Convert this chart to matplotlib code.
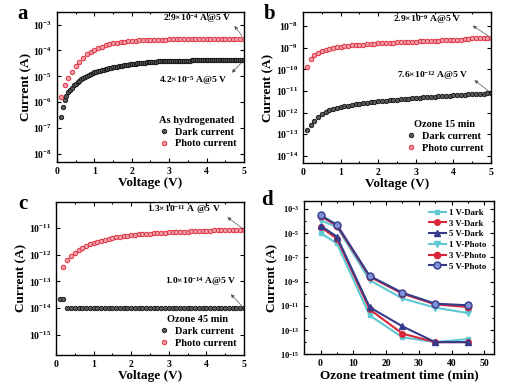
import numpy as np
import matplotlib
matplotlib.use("Agg")
import matplotlib.pyplot as plt
from matplotlib.ticker import LogLocator, NullLocator, NullFormatter, MultipleLocator

plt.rcParams["font.family"] = ["Liberation Serif", "DejaVu Serif"]
plt.rcParams["font.weight"] = "bold"
plt.rcParams["axes.labelweight"] = "bold"
plt.rcParams["mathtext.default"] = "regular"
plt.rcParams["axes.linewidth"] = 1.0

# voltage sweeps (instrument step settings)
volt_fine = np.linspace(0.10, 5.00, 99)     # 0.05 V step
volt = np.linspace(0.1, 5.0, 50)            # 0.1 V step
volt_c_photo = np.linspace(0.2, 5.0, 49)

# panel a: as hydrogenated
dark_a = [2.8e-7, 6.3e-7, 1.26e-6, 1.78e-6, 2.4e-6, 3.0e-6, 3.7e-6, 4.5e-6, 5.2e-6, 6.0e-6,
          6.9e-6, 7.8e-6, 8.7e-6, 9.6e-6, 1.07e-5, 1.16e-5, 1.26e-5, 1.34e-5, 1.41e-5, 1.50e-5,
          1.58e-5, 1.66e-5, 1.74e-5, 1.82e-5, 1.91e-5, 1.99e-5, 2.09e-5, 2.16e-5, 2.24e-5, 2.31e-5,
          2.38e-5, 2.45e-5, 2.51e-5, 2.57e-5, 2.63e-5, 2.69e-5, 2.82e-5, 2.88e-5, 2.95e-5, 3.00e-5,
          3.09e-5, 3.14e-5, 3.20e-5, 3.25e-5, 3.31e-5, 3.35e-5, 3.47e-5, 3.50e-5, 3.55e-5, 3.60e-5,
          3.65e-5, 3.70e-5, 3.80e-5, 3.83e-5, 3.86e-5, 3.89e-5, 3.92e-5, 3.95e-5, 3.98e-5,
          4.00e-5, 4.01e-5, 4.02e-5, 4.03e-5, 4.04e-5, 4.05e-5, 4.06e-5, 4.07e-5, 4.08e-5, 4.08e-5,
          4.09e-5, 4.10e-5, 4.10e-5, 4.11e-5, 4.11e-5, 4.12e-5, 4.12e-5, 4.13e-5, 4.13e-5, 4.14e-5,
          4.14e-5, 4.15e-5, 4.15e-5, 4.16e-5, 4.16e-5, 4.16e-5, 4.17e-5, 4.17e-5, 4.17e-5, 4.18e-5,
          4.18e-5, 4.18e-5, 4.19e-5, 4.19e-5, 4.19e-5, 4.19e-5, 4.20e-5, 4.20e-5, 4.20e-5, 4.20e-5]
photo_a = [1.66e-6, 4.5e-6, 8.3e-6, 1.48e-5, 2.45e-5, 3.6e-5, 5.1e-5, 7.1e-5, 8.9e-5, 1.07e-4,
           1.23e-4, 1.41e-4, 1.58e-4, 1.74e-4, 1.86e-4, 2.00e-4, 2.09e-4, 2.19e-4, 2.24e-4, 2.34e-4,
           2.40e-4, 2.45e-4, 2.51e-4, 2.53e-4, 2.57e-4, 2.59e-4, 2.61e-4, 2.63e-4, 2.64e-4, 2.66e-4,
           2.67e-4, 2.69e-4, 2.70e-4, 2.71e-4, 2.73e-4, 2.74e-4, 2.75e-4, 2.76e-4, 2.77e-4, 2.79e-4,
           2.80e-4, 2.81e-4, 2.82e-4, 2.83e-4, 2.84e-4, 2.85e-4, 2.86e-4, 2.87e-4, 2.88e-4, 2.90e-4]

# panel b: ozone 15 min
dark_b = [0.16e-12, 0.28e-12, 0.42e-12, 0.63e-12, 0.89e-12, 1.10e-12, 1.29e-12, 1.48e-12, 1.66e-12, 1.78e-12,
          1.95e-12, 2.09e-12, 2.24e-12, 2.40e-12, 2.57e-12, 2.69e-12, 2.88e-12, 3.02e-12, 3.24e-12, 3.39e-12,
          3.50e-12, 3.60e-12, 3.75e-12, 3.90e-12, 4.00e-12, 4.10e-12, 4.25e-12, 4.40e-12, 4.55e-12, 4.70e-12,
          4.85e-12, 5.00e-12, 5.15e-12, 5.30e-12, 5.50e-12, 5.65e-12, 5.80e-12, 5.95e-12, 6.10e-12, 6.30e-12,
          6.45e-12, 6.60e-12, 6.75e-12, 6.90e-12, 7.10e-12, 7.25e-12, 7.40e-12, 7.55e-12, 7.75e-12, 8.00e-12]
photo_b = [0.13e-9, 0.30e-9, 0.45e-9, 0.58e-9, 0.70e-9, 0.80e-9, 0.89e-9, 0.96e-9, 1.05e-9, 1.12e-9,
           1.17e-9, 1.22e-9, 1.27e-9, 1.32e-9, 1.36e-9, 1.40e-9, 1.44e-9, 1.48e-9, 1.53e-9, 1.58e-9,
           1.61e-9, 1.64e-9, 1.68e-9, 1.71e-9, 1.75e-9, 1.78e-9, 1.82e-9, 1.85e-9, 1.88e-9, 1.92e-9,
           1.95e-9, 1.98e-9, 2.02e-9, 2.06e-9, 2.10e-9, 2.14e-9, 2.18e-9, 2.22e-9, 2.26e-9, 2.30e-9,
           2.34e-9, 2.37e-9, 2.40e-9, 2.45e-9, 2.75e-9, 2.80e-9, 2.83e-9, 2.86e-9, 2.88e-9, 2.90e-9]

# panel c: ozone 45 min
dark_c = [2.2e-14, 2.1e-14] + [1.0e-14] * 48
photo_c = [0.34e-12, 0.60e-12, 0.87e-12, 1.15e-12, 1.45e-12, 1.78e-12, 2.04e-12, 2.40e-12, 2.75e-12,
           3.00e-12, 3.30e-12, 3.60e-12, 3.90e-12, 4.20e-12, 4.45e-12, 4.65e-12, 4.90e-12, 5.10e-12, 5.35e-12,
           5.50e-12, 5.60e-12, 5.75e-12, 5.90e-12, 6.05e-12, 6.20e-12, 6.30e-12, 6.45e-12, 6.55e-12, 6.70e-12,
           6.80e-12, 6.90e-12, 7.00e-12, 7.10e-12, 7.20e-12, 7.30e-12, 7.40e-12, 7.50e-12, 7.60e-12, 7.70e-12,
           7.80e-12, 7.90e-12, 8.00e-12, 8.10e-12, 8.20e-12, 8.30e-12, 8.35e-12, 8.40e-12, 8.50e-12, 8.60e-12]

# panel d: current vs ozone time
ozone_time = [0, 5, 15, 25, 35, 45]
dark_1v = [1.0e-5, 1.4e-6, 1.6e-12, 2.5e-14, 1.0e-14, 1.8e-14]
dark_3v = [3.2e-5, 3.5e-6, 5.0e-12, 5.0e-14, 1.0e-14, 1.0e-14]
dark_5v = [4.2e-5, 5.0e-6, 7.6e-12, 2.0e-13, 1.0e-14, 1.0e-14]
photo_1v = [1.1e-4, 3.2e-5, 1.3e-9, 4.0e-11, 7.0e-12, 2.5e-12]
photo_3v = [2.5e-4, 4.0e-5, 2.5e-9, 1.0e-10, 1.3e-11, 8.0e-12]
photo_5v = [2.9e-4, 5.0e-5, 2.9e-9, 1.2e-10, 1.5e-11, 1.1e-11]

CYAN = "#5ec8d3"
RED = "#d62638"
NAVY = "#363c8c"

fig = plt.figure(figsize=(5.28, 3.88), dpi=100)
ax_a = fig.add_axes([0.108, 0.583, 0.354, 0.387])
ax_b = fig.add_axes([0.574, 0.580, 0.356, 0.389])
ax_c = fig.add_axes([0.106, 0.085, 0.356, 0.395])
ax_d = fig.add_axes([0.576, 0.087, 0.360, 0.395])


def style_axis(ax):
    ax.tick_params(which="both", direction="in", top=True, right=True, labelsize=7, width=0.8)
    ax.tick_params(which="major", length=3)
    ax.tick_params(which="minor", length=1.6)
    for lab in ax.get_xticklabels() + ax.get_yticklabels():
        lab.set_fontweight("bold")


def iv_panel(ax, dark_x, dark_y, photo_x, photo_y, ylim, decades, title, notes, leg_anchor):
    ax.semilogy(dark_x, dark_y, "o", ms=3.2, mfc="#5a5a5a", mec="#111111", mew=0.6, label="Dark current")
    ax.semilogy(photo_x, photo_y, "o", ms=3.2, mfc="#f0a0a8", mec="#e0303f", mew=0.7, label="Photo current")
    ax.set_xlim(0, 5)
    ax.set_ylim(*ylim)
    ax.xaxis.set_major_locator(MultipleLocator(1))
    ax.xaxis.set_minor_locator(MultipleLocator(0.5))
    ax.set_yticks([10.0 ** e for e in decades])
    ax.yaxis.set_minor_locator(NullLocator())
    ax.set_xlabel("Voltage (V)", fontsize=9.5, labelpad=1)
    ax.set_ylabel("Current (A)", fontsize=9.5, labelpad=1)
    style_axis(ax)
    for text, txy, hxy, pxy in notes:
        ax.text(txy[0], txy[1], text, transform=ax.transAxes, ha="center", va="center", fontsize=6.8)
        ax.annotate("", xy=hxy, xycoords="axes fraction", xytext=pxy, textcoords="data",
                    arrowprops=dict(arrowstyle="-|>", lw=0.5, color="#555555", mutation_scale=5))
    leg = ax.legend(loc="lower right", bbox_to_anchor=leg_anchor, frameon=False, fontsize=7.5,
                    title=title, title_fontsize=7.5, handletextpad=0.5, borderpad=0.2,
                    labelspacing=0.25, handlelength=1.2)
    leg.get_title().set_fontweight("bold")
    for t in leg.get_texts():
        t.set_fontweight("bold")


iv_panel(ax_a, volt_fine, dark_a, volt, photo_a, (10 ** -8.3, 10 ** -2.5), range(-8, -2), "As hydrogenated",
         [("2.9×10$^{-4}$ A@5 V", (0.75, 0.955), (0.94, 0.92), (5.0, photo_a[-1])),
          ("4.2×10$^{-5}$ A@5 V", (0.73, 0.54), (0.925, 0.58), (5.0, dark_a[-1]))],
         (1.0, 0.04))
iv_panel(ax_b, volt, dark_b, volt, photo_b, (10 ** -14.33, 10 ** -7.35), range(-14, -7), "Ozone 15 min",
         [("2.9×10$^{-9}$ A@5 V", (0.66, 0.95), (0.89, 0.92), (5.0, photo_b[-1])),
          ("7.6×10$^{-12}$ A@5 V", (0.69, 0.58), (0.90, 0.56), (5.0, dark_b[-1]))],
         (1.0, 0.02))
iv_panel(ax_c, volt, dark_c, volt_c_photo, photo_c, (10 ** -15.75, 10 ** -10.03), range(-15, -10), "Ozone 45 min",
         [("1.3×10$^{-11}$ A @5 V", (0.68, 0.95), (0.90, 0.91), (5.0, photo_c[-1])),
          ("1.0×10$^{-14}$ A@5 V", (0.77, 0.48), (0.92, 0.41), (5.0, dark_c[-1]))],
         (1.0, 0.0))

# panel d
series_d = [
    (dark_1v, CYAN, "s", CYAN, 3.5, "1 V-Dark"),
    (dark_3v, RED, "o", RED, 4.0, "3 V-Dark"),
    (dark_5v, NAVY, "^", NAVY, 4.0, "5 V-Dark"),
    (photo_1v, CYAN, "v", CYAN, 4.0, "1 V-Photo"),
    (photo_3v, RED, "o", RED, 4.5, "3 V-Photo"),
    (photo_5v, NAVY, "o", "#7f8fd8", 5.0, "5 V-Photo"),
]
for vals, col, mk, face, ms, lab in series_d:
    ax_d.semilogy(ozone_time, vals, "-", color=col, marker=mk, mfc=face, mec=col, ms=ms, lw=1.5, label=lab)
ax_d.set_xlim(-5, 53)
ax_d.set_ylim(1e-15, 10 ** -2.35)
ax_d.set_xticks([0, 10, 20, 30, 40, 50])
ax_d.xaxis.set_minor_locator(MultipleLocator(5))
ax_d.set_yticks([10.0 ** e for e in range(-15, -2, 2)])
ax_d.set_yticks([10.0 ** e for e in range(-14, -2, 2)], minor=True)
ax_d.yaxis.set_minor_formatter(NullFormatter())
ax_d.set_xlabel("Ozone treatment time (min)", fontsize=9.5, labelpad=1)
ax_d.set_ylabel("Current (A)", fontsize=9.5, labelpad=1)
style_axis(ax_d)
ax_d.tick_params(axis="y", labelsize=6)
leg = ax_d.legend(loc="upper right", bbox_to_anchor=(0.99, 0.99), frameon=False, fontsize=6.3,
                  handlelength=2.0, labelspacing=0.3, handletextpad=0.3, borderpad=0.2)
for t in leg.get_texts():
    t.set_fontweight("bold")

for ax, letter, dx, dy in [(ax_a, "a", 0.075, -0.005), (ax_b, "b", 0.075, -0.005),
                           (ax_c, "c", 0.072, -0.005), (ax_d, "d", 0.082, 0.003)]:
    pos = ax.get_position()
    fig.text(pos.x0 - dx, pos.y1 + dy, letter, fontsize=15, fontweight="bold", va="center", ha="left")

fig.savefig("out.png", dpi=100)
